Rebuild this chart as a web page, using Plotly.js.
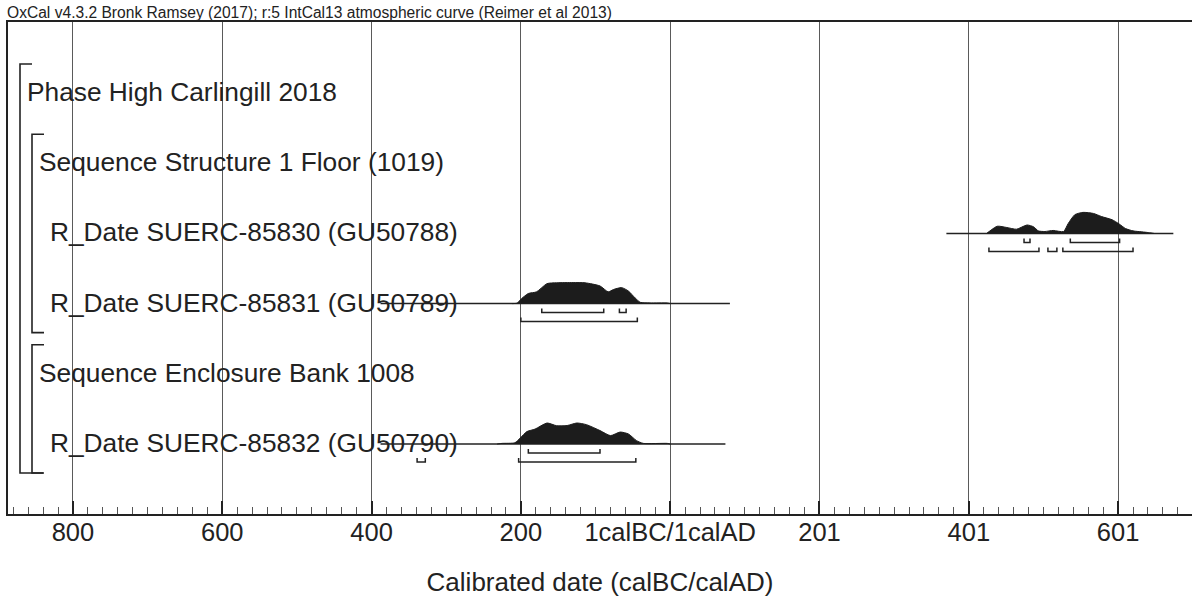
<!DOCTYPE html>
<html>
<head>
<meta charset="utf-8">
<script src="https://cdn.plot.ly/plotly-3.0.1.min.js"></script>
<style>html,body{margin:0;padding:0;background:#fff;}#chart{width:1192px;height:604px;}</style>
</head>
<body>
<div id="chart"></div>
<script>
// ---------------- DATA ----------------
const chartTitle = "OxCal v4.3.2 Bronk Ramsey (2017); r:5 IntCal13 atmospheric curve (Reimer et al 2013)";
const axisTitle = "Calibrated date (calBC/calAD)";
// Tick values in years (BC negative), and their OxCal labels
const tickValues = [-800, -600, -400, -200, 0, 200, 400, 600];
const tickLabels = ["800", "600", "400", "200", "1calBC/1calAD", "201", "401", "601"];

// Rows, top to bottom
const rowNames = [
  "Phase High Carlingill 2018",
  "Sequence Structure 1 Floor (1019)",
  "R_Date SUERC-85830 (GU50788)",
  "R_Date SUERC-85831 (GU50789)",
  "Sequence Enclosure Bank 1008",
  "R_Date SUERC-85832 (GU50790)"
];
const rowDepth = [0, 1, 2, 2, 1, 2];

// Groups (brackets): first and last row index, nesting depth
const groupNames = ["Phase High Carlingill 2018", "Sequence Structure 1 Floor (1019)", "Sequence Enclosure Bank 1008"];
const groupFirstRow = [0, 1, 4];
const groupLastRow = [5, 3, 5];
const groupDepth = [0, 1, 1];

// SUERC-85830 (row 2)
const d85830Span = [370, 674];
const d85830Year = [424, 438, 451, 464, 478, 487, 493, 502, 513, 527, 533, 542, 553, 567, 578, 592, 601, 610, 620, 638, 648];
const d85830Prob = [0, 0.34, 0.28, 0.20, 0.40, 0.31, 0.12, 0.09, 0.14, 0.09, 0.46, 0.89, 1.0, 0.95, 0.80, 0.65, 0.46, 0.23, 0.12, 0.05, 0];
const d85830R68 = [[474, 482], [536, 602]];
const d85830R95 = [[427, 494], [506, 518], [526, 620]];

// SUERC-85831 (row 3)
const d85831Span = [-388, 80];
const d85831Year = [-212, -205, -199, -190, -179, -165, -152, -130, -114, -94, -83, -76, -65, -56, -47, -40, -27, -4, 0];
const d85831Prob = [0, 0.02, 0.24, 0.48, 0.56, 0.95, 0.99, 1.0, 0.99, 0.84, 0.56, 0.67, 0.76, 0.60, 0.27, 0.06, 0.03, 0.03, 0];
const d85831R68 = [[-172, -89], [-68, -59]];
const d85831R95 = [[-200, -44]];

// SUERC-85832 (row 5)
const d85832Span = [-388, 74];
const d85832Year = [-232, -225, -208, -201, -192, -181, -165, -152, -138, -125, -112, -94, -80, -67, -56, -45, -36, -4, 0];
const d85832Prob = [0, 0.03, 0.06, 0.28, 0.59, 0.71, 1.0, 0.87, 0.88, 1.0, 0.92, 0.64, 0.40, 0.57, 0.48, 0.16, 0.03, 0.03, 0];
const d85832R68 = [[-190, -94]];
const d85832R95 = [[-339, -328], [-203, -46]];

// ---------------- LAYOUT CONSTANTS ----------------
const W = 1192, H = 604;
const M = {l: 8, r: 0, t: 22, b: 90};
const plotW = W - M.l - M.r;
const nRows = rowNames.length;
const yTop = nRows + 1.011, yBot = 0.003;   // row i sits at y = nRows - i
const pxPerUnit = (H - M.t - M.b) / (yTop - yBot);
const px2y = p => p / pxPerUnit;
const xPaper = px => (px - M.l) / plotW;
const ink = "#222";
const FONT = "Liberation Sans, Arial, Helvetica, sans-serif";
const distHeightPx = 21;

function rowY(i) { return nRows - i; }

const traces = [];
function addDist(row, span, years, probs, r68, r95) {
  const y0 = rowY(row);
  // baseline
  traces.push({x: span, y: [y0, y0], mode: "lines", line: {color: ink, width: 1.5}, hoverinfo: "skip", showlegend: false});
  // filled density
  const xs = [years[0]].concat(years, [years[years.length - 1]]);
  const ys = [y0].concat(probs.map(p => y0 + px2y(p * distHeightPx)), [y0]);
  traces.push({x: xs, y: ys, mode: "lines", fill: "toself", fillcolor: "#1c1c1c", line: {color: "#1c1c1c", width: 1, shape: "spline", smoothing: 0.6}, hoverinfo: "skip", showlegend: false});
  // ranges
  const addRanges = (ranges, lineOff, tickOff) => {
    ranges.forEach(r => {
      const yl = y0 - px2y(lineOff), yt = y0 - px2y(tickOff);
      traces.push({x: [r[0], r[0], r[1], r[1]], y: [yt, yl, yl, yt], mode: "lines", line: {color: ink, width: 1.5}, hoverinfo: "skip", showlegend: false});
    });
  };
  addRanges(r68, 9, 5);
  addRanges(r95, 18, 14);
}
addDist(2, d85830Span, d85830Year, d85830Prob, d85830R68, d85830R95);
addDist(3, d85831Span, d85831Year, d85831Prob, d85831R68, d85831R95);
addDist(5, d85832Span, d85832Year, d85832Prob, d85832R68, d85832R95);

// Brackets
const shapes = [];
const bracketX0 = 20, bracketStep = 12, bracketTick = 12;
for (let g = 0; g < groupNames.length; g++) {
  const xv = xPaper(bracketX0 + bracketStep * groupDepth[g]);
  const xt = xPaper(bracketX0 + bracketStep * groupDepth[g] + bracketTick);
  const xb = xPaper(bracketX0 + bracketStep * groupDepth[g] + bracketTick + (groupDepth[g] === 0 ? 11 : 0));
  const yt = rowY(groupFirstRow[g]) + px2y(29);
  const yb = rowY(groupLastRow[g]) - px2y(29);
  const st = {type: "path", xref: "paper", yref: "y", line: {color: ink, width: 1.6}};
  shapes.push(Object.assign({}, st, {path: `M${xt},${yt} L${xv},${yt} L${xv},${yb} L${xb},${yb}`}));
}

// Row labels
const annotations = rowNames.map((name, i) => ({
  xref: "paper", yref: "y", x: xPaper(25 + 11.5 * rowDepth[i]), y: rowY(i) + px2y(1),
  xanchor: "left", yanchor: "middle", text: name, showarrow: false,
  font: {family: FONT, size: 26.3, color: ink}
}));

const layout = {
  width: W, height: H,
  margin: M,
  paper_bgcolor: "#fff", plot_bgcolor: "#fff",
  showlegend: false,
  title: {text: chartTitle, x: 7 / W, xref: "container", xanchor: "left", y: 1 - 13 / H, yref: "container", yanchor: "middle",
    font: {family: FONT, size: 15.6, color: ink}},
  xaxis: {
    range: [-887, 699], tickvals: tickValues, ticktext: tickLabels,
    ticks: "inside", ticklen: 13, tickwidth: 2, tickcolor: ink,
    showline: true, linewidth: 2, linecolor: ink, mirror: true,
    showgrid: true, gridcolor: "#5a5a5a", gridwidth: 1, zeroline: false,
    minor: {dtick: 20, tick0: 0, ticks: "inside", ticklen: 7, tickwidth: 1, tickcolor: "#555", showgrid: false},
    tickfont: {family: FONT, size: 25.5, color: ink},
    ticklabelstandoff: -6,
    automargin: false,
    title: {text: axisTitle, font: {family: FONT, size: 26, color: ink}, standoff: 28},
    fixedrange: true
  },
  yaxis: {
    range: [yBot, yTop], showline: true, linewidth: 2, linecolor: ink,
    showgrid: false, zeroline: false, showticklabels: false, ticks: "", automargin: false, fixedrange: true
  },
  shapes: shapes,
  annotations: annotations
};

Plotly.newPlot("chart", traces, layout, {displayModeBar: false, staticPlot: true});
</script>
</body>
</html>
